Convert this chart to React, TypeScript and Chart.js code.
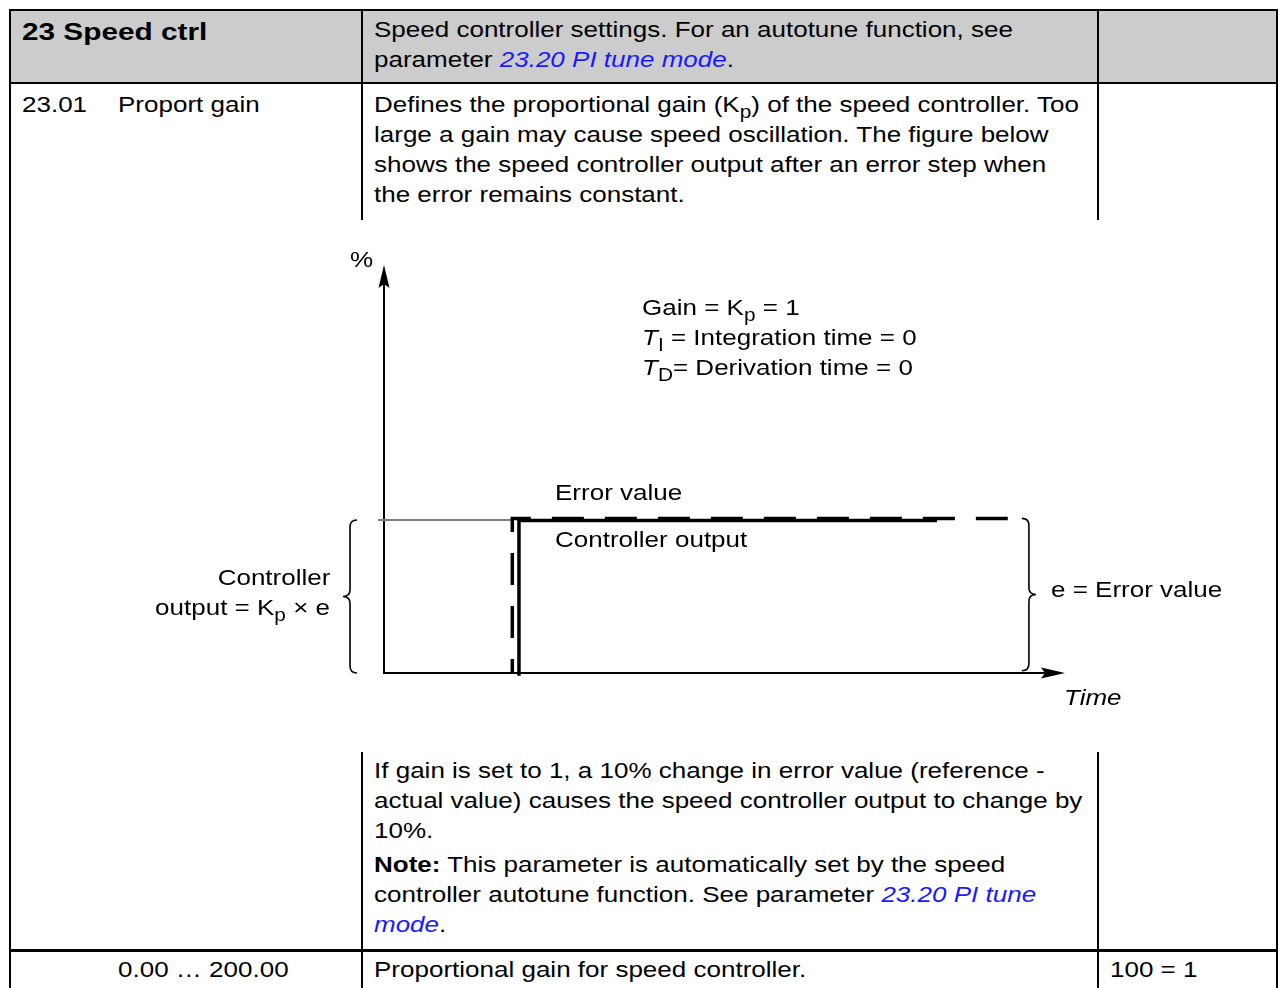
import React, { useEffect, useRef } from "react";
import { Chart, registerables } from "chart.js";

Chart.register(...registerables);

// ---------------- chart data (time: arbitrary units, output: %) ----------------
const timeRange = [0, 100];
const percentRange = [0, 100];
const baselineTime = [-0.9, 18.84];
const baselinePct = [37.5, 37.5];
const errorTime = [18.84, 18.84, 91.6];
const errorPct = [0, 37.85, 37.85];
const outputTime = [19.82, 19.82, 81.2];
const outputPct = [-0.7, 37.4, 37.4];
const leftBraceTime = -4.99;
const leftBracePct = [37.5, 0];
const rightBraceTime = 94.7;
const rightBracePct = [37.9, 0.55];

// ---------------- text ----------------
const headerTitle = "23 Speed ctrl";
const headerDesc = ["Speed controller settings. For an autotune function, see", "parameter "];
const linkText = "23.20 PI tune mode";
const paramId = "23.01";
const paramName = "Proport gain";
const descLines = [
  "large a gain may cause speed oscillation. The figure below",
  "shows the speed controller output after an error step when",
  "the error remains constant.",
];
const afterLines = [
  "If gain is set to 1, a 10% change in error value (reference -",
  "actual value) causes the speed controller output to change by",
  "10%.",
];
const rangeText = "0.00 … 200.00";
const rangeDesc = "Proportional gain for speed controller.";
const scaleText = "100 = 1";

const PAGE_W = 1282;
const SX = 1.182;
const LINK = "#1a1aff";
const FONT = "'Liberation Sans', Arial, Helvetica, sans-serif";

const pts = (xs: number[], ys: number[]) => xs.map((x, i) => ({ x, y: ys[i] }));

function Sub({ children }: { children: React.ReactNode }) {
  return (
    <span style={{ fontSize: "0.8em", position: "relative", top: "0.32em", fontStyle: "normal" }}>{children}</span>
  );
}

function Link({ children }: { children: React.ReactNode }) {
  return <span style={{ color: LINK, fontStyle: "italic" }}>{children}</span>;
}

function Line(props: {
  x: number;
  y: number;
  right?: boolean;
  bold?: boolean;
  italic?: boolean;
  size?: number;
  sx?: number;
  children: React.ReactNode;
}) {
  const { x, y, right, bold, italic, size = 22, sx = SX, children } = props;
  const style: React.CSSProperties = {
    position: "absolute",
    top: y - 15,
    height: 30,
    lineHeight: "30px",
    fontSize: size,
    whiteSpace: "nowrap",
    fontWeight: bold ? "bold" : "normal",
    fontStyle: italic ? "italic" : "normal",
    transform: `scaleX(${sx})`,
    transformOrigin: right ? "right center" : "left center",
    color: "#000",
  };
  if (right) style.right = PAGE_W - x;
  else style.left = x;
  return <div style={style}>{children}</div>;
}

function Rule({ x, y, w, h }: { x: number; y: number; w: number; h: number }) {
  return <div style={{ position: "absolute", left: x, top: y, width: w, height: h, background: "#000" }} />;
}

function drawBrace(ctx: CanvasRenderingContext2D, sx: number, y1: number, y2: number, dir: number) {
  // dir = -1: "{" pointing left, dir = +1: "}" pointing right
  const r = 7;
  const ym = (y1 + y2) / 2;
  ctx.beginPath();
  ctx.moveTo(sx - dir * r, y1);
  ctx.quadraticCurveTo(sx, y1, sx, y1 + r);
  ctx.lineTo(sx, ym - r);
  ctx.quadraticCurveTo(sx, ym, sx + dir * r, ym);
  ctx.quadraticCurveTo(sx, ym, sx, ym + r);
  ctx.lineTo(sx, y2 - r);
  ctx.quadraticCurveTo(sx, y2, sx - dir * r, y2);
  ctx.stroke();
}

const diagramPlugin = {
  id: "diagram",
  beforeDatasetsDraw(chart: any) {
    const { ctx, scales } = chart;
    const X = (v: number) => scales.x.getPixelForValue(v);
    const Y = (v: number) => scales.y.getPixelForValue(v);
    const ox = X(timeRange[0]);
    const oy = Y(percentRange[0]);
    const tx = X(timeRange[1]);
    const ty = Y(percentRange[1]);
    ctx.save();
    ctx.strokeStyle = "#000";
    ctx.fillStyle = "#000";
    ctx.lineWidth = 2;
    ctx.beginPath();
    ctx.moveTo(ox, oy + 1);
    ctx.lineTo(ox, ty + 18);
    ctx.stroke();
    ctx.beginPath();
    ctx.moveTo(ox, ty);
    ctx.lineTo(ox - 5.5, ty + 23);
    ctx.lineTo(ox, ty + 19);
    ctx.lineTo(ox + 5.5, ty + 23);
    ctx.closePath();
    ctx.fill();
    ctx.beginPath();
    ctx.moveTo(ox - 1, oy);
    ctx.lineTo(tx - 18, oy);
    ctx.stroke();
    ctx.beginPath();
    ctx.moveTo(tx, oy);
    ctx.lineTo(tx - 24, oy - 5.5);
    ctx.lineTo(tx - 20, oy);
    ctx.lineTo(tx - 24, oy + 5.5);
    ctx.closePath();
    ctx.fill();
    ctx.lineWidth = 1.6;
    drawBrace(ctx, X(leftBraceTime), Y(leftBracePct[0]), Y(leftBracePct[1]), -1);
    drawBrace(ctx, X(rightBraceTime), Y(rightBracePct[0]), Y(rightBracePct[1]), 1);
    ctx.restore();
  },
};

function Diagram() {
  const ref = useRef<HTMLCanvasElement>(null);
  useEffect(() => {
    if (!ref.current) return;
    const chart = new Chart(ref.current, {
      type: "line",
      data: {
        datasets: [
          {
            label: "Error value",
            data: pts(errorTime, errorPct),
            borderColor: "#000",
            borderWidth: 3.5,
            borderDash: [32, 21],
            borderDashOffset: 18,
            pointRadius: 0,
            tension: 0,
            clip: false as any,
            borderCapStyle: "butt",
            borderJoinStyle: "miter",
          },
          {
            label: "Controller output",
            data: pts(outputTime, outputPct),
            borderColor: "#000",
            borderWidth: 3.5,
            pointRadius: 0,
            tension: 0,
            clip: false as any,
            borderCapStyle: "butt",
            borderJoinStyle: "miter",
          },
          {
            label: "Before step",
            data: pts(baselineTime, baselinePct),
            borderColor: "#808080",
            borderWidth: 2,
            pointRadius: 0,
            tension: 0,
            clip: false as any,
          },
        ],
      },
      options: {
        animation: false,
        responsive: false,
        events: [],
        layout: { padding: { left: 374, right: 211, top: 43, bottom: 77 } },
        scales: {
          x: { type: "linear", min: timeRange[0], max: timeRange[1], display: false },
          y: { type: "linear", min: percentRange[0], max: percentRange[1], display: false },
        },
        plugins: { legend: { display: false }, tooltip: { enabled: false } },
      },
      plugins: [diagramPlugin],
    });
    return () => chart.destroy();
  }, []);
  return (
    <canvas
      ref={ref}
      width={1266}
      height={528}
      style={{ position: "absolute", left: 10, top: 222, width: 1266, height: 528 }}
    />
  );
}

export default function App() {
  return (
    <div
      style={{
        position: "absolute",
        left: 0,
        top: 0,
        width: PAGE_W,
        height: 988,
        overflow: "hidden",
        background: "#fff",
        fontFamily: FONT,
      }}
    >
      {/* header background */}
      <div style={{ position: "absolute", left: 11, top: 11, width: 1265, height: 71, background: "#cccccc" }} />
      <Diagram />
      {/* table rules */}
      <Rule x={9} y={9} w={1269} h={2} />
      <Rule x={9} y={9} w={2} h={979} />
      <Rule x={1276} y={9} w={2} h={979} />
      <Rule x={9} y={82} w={1269} h={2} />
      <Rule x={361} y={9} w={2} h={211} />
      <Rule x={1097} y={9} w={2} h={211} />
      <Rule x={361} y={752} w={2} h={236} />
      <Rule x={1097} y={752} w={2} h={236} />
      <Rule x={9} y={949} w={1269} h={3} />

      {/* header */}
      <Line x={22} y={32} bold size={24} sx={1.24}>{headerTitle}</Line>
      <Line x={374} y={30}>{headerDesc[0]}</Line>
      <Line x={374} y={60}>
        {headerDesc[1]}
        <Link>{linkText}</Link>.
      </Line>

      {/* parameter row */}
      <Line x={22} y={105}>{paramId}</Line>
      <Line x={118} y={105}>{paramName}</Line>
      <Line x={374} y={105}>
        Defines the proportional gain (K<Sub>p</Sub>) of the speed controller. Too
      </Line>
      {descLines.map((t, i) => (
        <Line key={i} x={374} y={135 + i * 30}>
          {t}
        </Line>
      ))}

      {/* diagram labels */}
      <Line x={350} y={260}>%</Line>
      <Line x={642} y={308}>
        Gain = K<Sub>p</Sub> = 1
      </Line>
      <Line x={642} y={338}>
        <i>T</i>
        <Sub>I</Sub> = Integration time = 0
      </Line>
      <Line x={642} y={368}>
        <i>T</i>
        <Sub>D</Sub>= Derivation time = 0
      </Line>
      <Line x={555} y={493}>Error value</Line>
      <Line x={555} y={540}>Controller output</Line>
      <Line x={330} y={578} right>
        Controller
      </Line>
      <Line x={330} y={608} right>
        output = K<Sub>p</Sub> × e
      </Line>
      <Line x={1051} y={590}>e = Error value</Line>
      <Line x={1064} y={698} italic>
        Time
      </Line>

      {/* text after diagram */}
      {afterLines.map((t, i) => (
        <Line key={i} x={374} y={771 + i * 30}>
          {t}
        </Line>
      ))}
      <Line x={374} y={865}>
        <b>Note:</b> This parameter is automatically set by the speed
      </Line>
      <Line x={374} y={895}>
        controller autotune function. See parameter <Link>23.20 PI tune</Link>
      </Line>
      <Line x={374} y={925}>
        <Link>mode</Link>.
      </Line>

      {/* range row */}
      <Line x={118} y={970}>{rangeText}</Line>
      <Line x={374} y={970}>{rangeDesc}</Line>
      <Line x={1110} y={970}>{scaleText}</Line>
    </div>
  );
}
